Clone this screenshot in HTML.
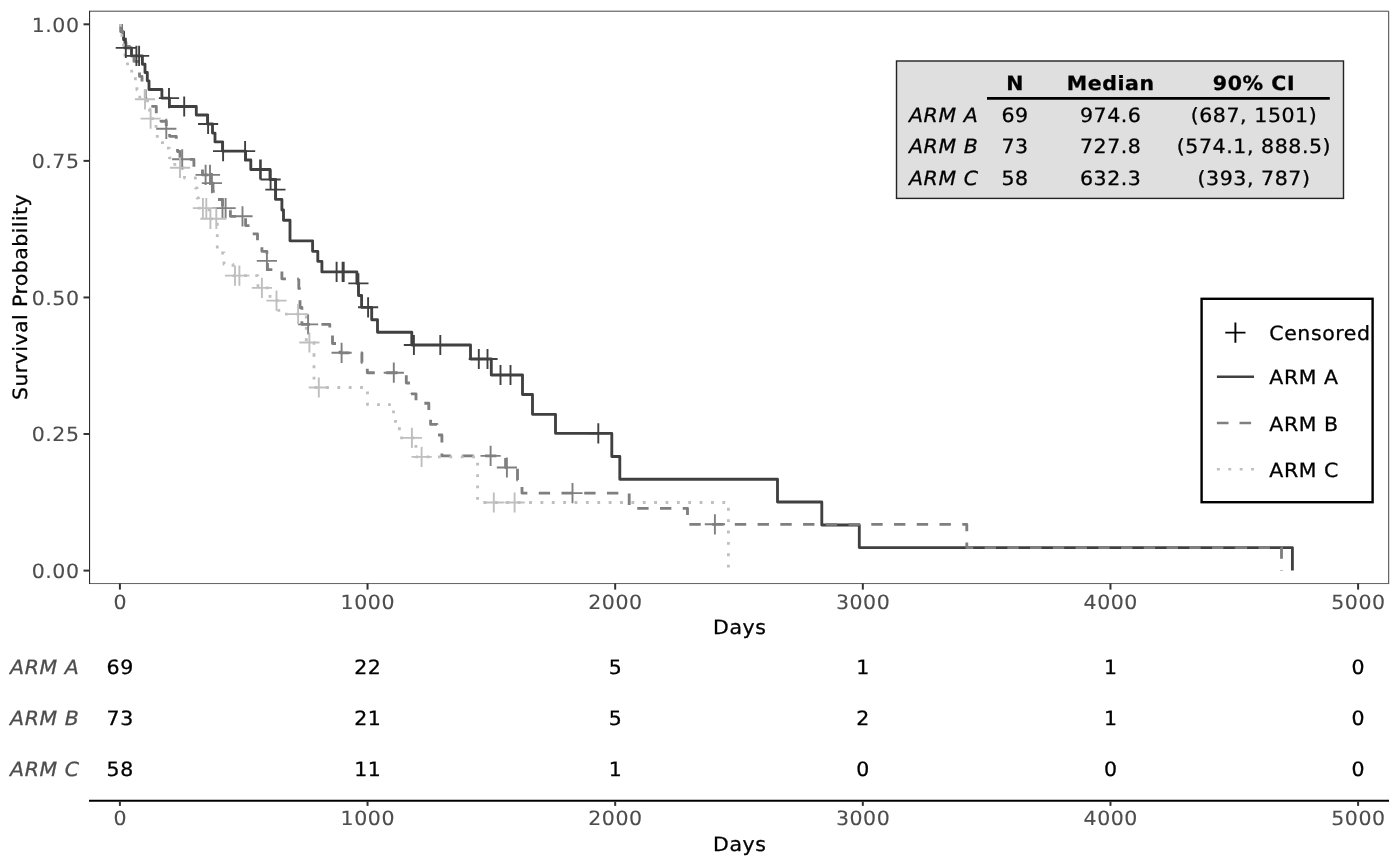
<!DOCTYPE html>
<html lang="en"><head><meta charset="utf-8"><title>Kaplan-Meier Plot</title>
<style>html,body{margin:0;padding:0;background:#fff}svg{display:block}text{font-family:"DejaVu Sans","Liberation Sans",sans-serif;text-rendering:geometricPrecision;letter-spacing:0.57px;stroke-width:0.3px;stroke-linejoin:round}.ax{font-size:20.50px;fill:#4d4d4d;stroke:#4d4d4d;stroke-width:0.12px}.ti{font-size:20.50px;fill:#000;stroke:#000}.it{font-style:italic}.b{font-weight:bold}.m{text-anchor:middle}.e{text-anchor:end}</style></head><body>
<svg width="1400" height="866" viewBox="0 0 1400 866">
<rect x="0" y="0" width="1400" height="866" fill="#fff"/>
<g id="curves" fill="none">
<path d="M121.3 24V31.9H123.6V39.8H125V47.9H131.5V55.9H142.4V64.2H145V72.5H147.3V80.8H149V89.5H161.9V98.1H169.4V106.5H196.3V115H207.5V124H212.5V133.1H215V141.9H222.5V151.1H245.6V160H250.8V169.5H270V179.5H275.6V199.4H281.9V210H283.5V220.2H290V240.8H312.6V251.3H317.8V261.3H321.9V271.9H356.9V283.4H358.5V295.5H361.6V307.3H371.7V319.7H377.5V332.2H411.8V345H470.5V359H491.3V375H522.5V394.5H532.5V414.3H555.5V433.3H611.8V456.5H619.8V479.2H777.5V502H821.8V525H859.3V547.6H1292.4V570.4" stroke="#404040" stroke-width="2.85" stroke-linejoin="round"/>
<g stroke="#7f7f7f" stroke-width="2.85" stroke-linejoin="round" stroke-dasharray="11.37 11.37"><path d="M120.7 24V31.5H122.6V39H126V46.4H129.5V53.9H134V61.4H138.5V68.9H139.5V72.6"/><path d="M139.5 72.6V76.4H142V83.8H145.3V98.8H150.5V106.3H151.9"/><path d="M151.9 106.3H156.3V113.8H161V121.2H166.3V128.8H169.6V136.3H176.3V143.9H177.5V151.5H180V159.3H190"/><path d="M190 159.3H193.9V166.9H202.5V174.9H211.3V183.1H213V191.4H216V199.5H222.5V208.1H230.4V210.6"/><path d="M230.4 210.6V216.3H245.6V225.6H252V233.8H257.5V242.5H261.9V251.3H266.9V260.9H267.5V263.1"/><path d="M267.5 263.1V269.6H281.9V278.8H298.8"/><path d="M298.8 278.8H298.8V288.5H299.5V298H300V307.5H301.9V324.4H329.8V334H332.5V335.6"/><path d="M332.5 335.6V343.5H340V352.8H361.9V362.5H367.3V368.8"/><path d="M367.3 368.8V372.7H406.3V383H411V393.8"/><path d="M411 393.8H411H416V403.2H428.8V413.7H430.6V424.4H437V435H441.9V453.5"/><path d="M441.9 453.5V455.9H505.6V467.5H517.5V480H522V493.1H629.2V508.3H687.5V524.4H966.8V547.5H1235.8"/><path d="M1235.8 547.5H1281.5V570.4"/></g>
<g stroke="#bfbfbf" stroke-width="2.85" stroke-linejoin="round" stroke-dasharray="2.84 8.53"><path d="M120.5 24V33.4H122V42.8H123.5V52.2H125V61.7H127.5V71.1H135.4V80.5H136.9V89.9H139.8V99.3H147.5V108.9H149.5V118.6H156V128.5H157.3V138.3H162.5V148.1H169.4V157.9H174.8V167.8H184.5V178H195.5V188H197V198H198.5V208.1H209V218.8H217.3V253H224V264.3H233V275.6H255.3"/><path d="M255.3 275.6H258V287.9H270V300.6H278.8V314.1H306.3V342.5H314V354"/><path d="M314 354V387.5H367.5V404.6H388"/><path d="M388 404.6H393.5V421.3H399.4V437.9H415.9V456.9H438"/><path d="M438 456.9H477.6V502.5H483.6"/><path d="M483.6 502.5H728.4V570.4"/></g>
<path d="M115.7 47.9h20.2M125.8 37.8v20.2M126.3 55.9h20.2M136.4 45.8v20.2M129 55.9h20.2M139.1 45.8v20.2M158.9 98.1h20.2M169 88v20.2M174.1 106.5h20.2M184.2 96.4v20.2M198 124h20.2M208.1 113.9v20.2M213 151.1h20.2M223.1 141v20.2M235 151.1h20.2M245.1 141v20.2M250 169.5h20.2M260.1 159.4v20.2M250.7 169.5h20.2M260.8 159.4v20.2M260.5 179.5h20.2M270.6 169.4v20.2M265.3 189.6h20.2M275.4 179.5v20.2M326.5 271.9h20.2M336.6 261.8v20.2M332.5 271.9h20.2M342.6 261.8v20.2M333.6 271.9h20.2M343.7 261.8v20.2M348.3 283.4h20.2M358.4 273.3v20.2M358 307.3h20.2M368.1 297.2v20.2M403.8 345h20.2M413.9 334.9v20.2M430.2 345h20.2M440.3 334.9v20.2M468.7 359h20.2M478.8 348.9v20.2M477.4 359h20.2M487.5 348.9v20.2M490.4 375h20.2M500.5 364.9v20.2M500.4 375h20.2M510.5 364.9v20.2M588.2 433.3h20.2M598.3 423.2v20.2" stroke="#404040" stroke-width="1.9"/>
<path d="M156.2 128.8h20.2M166.3 118.7v20.2M172.1 159.3h20.2M182.2 149.2v20.2M195.5 174.9h20.2M205.6 164.8v20.2M199.9 174.9h20.2M210 164.8v20.2M201.8 183.1h20.2M211.9 173v20.2M212.4 208.1h20.2M222.5 198v20.2M215.5 208.1h20.2M225.6 198v20.2M232.4 216.3h20.2M242.5 206.2v20.2M256.8 260.9h20.2M266.9 250.8v20.2M298 324.4h20.2M308.1 314.3v20.2M331.5 352.8h20.2M341.6 342.7v20.2M383.7 372.7h20.2M393.8 362.6v20.2M480.5 455.9h20.2M490.6 445.8v20.2M496.8 467.5h20.2M506.9 457.4v20.2M562.4 493.1h20.2M572.5 483v20.2M704.8 524.3h20.2M714.9 514.2v20.2" stroke="#7f7f7f" stroke-width="1.9"/>
<path d="M134.9 99.3h20.2M145 89.2v20.2M140.5 118.6h20.2M150.6 108.5v20.2M169.9 167.8h20.2M180 157.7v20.2M192.8 208.1h20.2M202.9 198v20.2M196.2 208.1h20.2M206.3 198v20.2M200.3 218.8h20.2M210.4 208.7v20.2M206.2 218.8h20.2M216.3 208.7v20.2M224.9 275.6h20.2M235 265.5v20.2M229.3 275.6h20.2M239.4 265.5v20.2M251.8 287.9h20.2M261.9 277.8v20.2M266.4 300.6h20.2M276.5 290.5v20.2M288 314.1h20.2M298.1 304v20.2M299.3 342.5h20.2M309.4 332.4v20.2M308.7 387.5h20.2M318.8 377.4v20.2M401.8 437.9h20.2M411.9 427.8v20.2M411.5 456.9h20.2M421.6 446.8v20.2M483.7 502.5h20.2M493.8 492.4v20.2M504.5 502.5h20.2M514.6 492.4v20.2" stroke="#bfbfbf" stroke-width="1.9"/>
</g>
<path d="M89.60 11.2H1388.7V583.40" fill="none" stroke="#3a3a3a" stroke-width="0.95"/>
<path d="M89.10 583.55H1389.2" fill="none" stroke="#3a3a3a" stroke-width="0.8"/>
<path d="M89.55 10.7V584" fill="none" stroke="#2e2e2e" stroke-width="1.1"/>
<path d="M83.5 570.60H89.6" stroke="#333" stroke-width="2"/>
<text class="ax e" transform="translate(79.57 577.80) scale(1 0.958)">0.00</text>
<path d="M83.5 434.03H89.6" stroke="#333" stroke-width="2"/>
<text class="ax e" transform="translate(79.57 441.23) scale(1 0.958)">0.25</text>
<path d="M83.5 297.45H89.6" stroke="#333" stroke-width="2"/>
<text class="ax e" transform="translate(79.57 304.65) scale(1 0.958)">0.50</text>
<path d="M83.5 160.88H89.6" stroke="#333" stroke-width="2"/>
<text class="ax e" transform="translate(79.57 168.08) scale(1 0.958)">0.75</text>
<path d="M83.5 24.30H89.6" stroke="#333" stroke-width="2"/>
<text class="ax e" transform="translate(79.57 31.50) scale(1 0.958)">1.00</text>
<path d="M119.90 583.4V589.6" stroke="#333" stroke-width="2"/>
<text class="ax m" transform="translate(120.19 609.00) scale(1 0.958)">0</text>
<path d="M367.54 583.4V589.6" stroke="#333" stroke-width="2"/>
<text class="ax m" transform="translate(367.82 609.00) scale(1 0.958)">1000</text>
<path d="M615.18 583.4V589.6" stroke="#333" stroke-width="2"/>
<text class="ax m" transform="translate(615.46 609.00) scale(1 0.958)">2000</text>
<path d="M862.82 583.4V589.6" stroke="#333" stroke-width="2"/>
<text class="ax m" transform="translate(863.10 609.00) scale(1 0.958)">3000</text>
<path d="M1110.46 583.4V589.6" stroke="#333" stroke-width="2"/>
<text class="ax m" transform="translate(1110.75 609.00) scale(1 0.958)">4000</text>
<path d="M1358.10 583.4V589.6" stroke="#333" stroke-width="2"/>
<text class="ax m" transform="translate(1358.39 609.00) scale(1 0.958)">5000</text>
<text class="ti m" transform="translate(739.78 633.80) scale(1 0.958)">Days</text>
<text class="ti m" style="letter-spacing:0.42px" transform="translate(27.40 297.01) rotate(-90) scale(1 0.958)">Survival Probability</text>
<rect x="896.5" y="61" width="447" height="137.4" fill="#dfdfdf" stroke="#222" stroke-width="1.4"/>
<path d="M987 98.3H1329.8" stroke="#000" stroke-width="2.8"/>
<text class="ti b m" transform="translate(1014.99 89.60) scale(1 0.958)">N</text>
<text class="ti b m" transform="translate(1110.69 89.60) scale(1 0.958)">Median</text>
<text class="ti b m" transform="translate(1253.99 89.60) scale(1 0.958)">90% CI</text>
<text class="ti it" transform="translate(909.00 122.00) scale(1 0.958)">ARM A</text>
<text class="ti m" transform="translate(1014.99 122.00) scale(1 0.958)">69</text>
<text class="ti m" transform="translate(1110.69 122.00) scale(1 0.958)">974.6</text>
<text class="ti m" transform="translate(1253.99 122.00) scale(1 0.958)">(687, 1501)</text>
<text class="ti it" transform="translate(909.00 152.50) scale(1 0.958)">ARM B</text>
<text class="ti m" transform="translate(1014.99 152.50) scale(1 0.958)">73</text>
<text class="ti m" transform="translate(1110.69 152.50) scale(1 0.958)">727.8</text>
<text class="ti m" transform="translate(1253.99 152.50) scale(1 0.958)">(574.1, 888.5)</text>
<text class="ti it" transform="translate(909.00 184.60) scale(1 0.958)">ARM C</text>
<text class="ti m" transform="translate(1014.99 184.60) scale(1 0.958)">58</text>
<text class="ti m" transform="translate(1110.69 184.60) scale(1 0.958)">632.3</text>
<text class="ti m" transform="translate(1253.99 184.60) scale(1 0.958)">(393, 787)</text>
<rect x="1201.6" y="298.8" width="171" height="203.4" fill="#fff" stroke="#000" stroke-width="2.4"/>
<path d="M1225.3 332.6H1245.5M1235.4 322.5V342.7" stroke="#000" stroke-width="1.9" fill="none"/>
<path d="M1216.9 376.7H1254" stroke="#404040" stroke-width="2.6"/>
<path d="M1216.9 423H1254" stroke="#7f7f7f" stroke-width="2.6" stroke-dasharray="11.6 11"/>
<path d="M1216.9 469.3H1254" stroke="#bfbfbf" stroke-width="2.6" stroke-dasharray="2.9 8.5"/>
<text class="ti" transform="translate(1269.30 340.00) scale(1 0.958)">Censored</text>
<text class="ti" transform="translate(1269.30 384.30) scale(1 0.958)">ARM A</text>
<text class="ti" transform="translate(1269.30 430.70) scale(1 0.958)">ARM B</text>
<text class="ti" transform="translate(1269.30 477.00) scale(1 0.958)">ARM C</text>
<text class="ti it" style="fill:#4d4d4d;stroke:#4d4d4d" transform="translate(10.10 674.30) scale(1 0.958)">ARM A</text>
<text class="ti m" transform="translate(120.19 674.30) scale(1 0.958)">69</text>
<text class="ti m" transform="translate(367.82 674.30) scale(1 0.958)">22</text>
<text class="ti m" transform="translate(615.46 674.30) scale(1 0.958)">5</text>
<text class="ti m" transform="translate(863.10 674.30) scale(1 0.958)">1</text>
<text class="ti m" transform="translate(1110.75 674.30) scale(1 0.958)">1</text>
<text class="ti m" transform="translate(1358.39 674.30) scale(1 0.958)">0</text>
<text class="ti it" style="fill:#4d4d4d;stroke:#4d4d4d" transform="translate(10.10 725.30) scale(1 0.958)">ARM B</text>
<text class="ti m" transform="translate(120.19 725.30) scale(1 0.958)">73</text>
<text class="ti m" transform="translate(367.82 725.30) scale(1 0.958)">21</text>
<text class="ti m" transform="translate(615.46 725.30) scale(1 0.958)">5</text>
<text class="ti m" transform="translate(863.10 725.30) scale(1 0.958)">2</text>
<text class="ti m" transform="translate(1110.75 725.30) scale(1 0.958)">1</text>
<text class="ti m" transform="translate(1358.39 725.30) scale(1 0.958)">0</text>
<text class="ti it" style="fill:#4d4d4d;stroke:#4d4d4d" transform="translate(10.10 776.30) scale(1 0.958)">ARM C</text>
<text class="ti m" transform="translate(120.19 776.30) scale(1 0.958)">58</text>
<text class="ti m" transform="translate(367.82 776.30) scale(1 0.958)">11</text>
<text class="ti m" transform="translate(615.46 776.30) scale(1 0.958)">1</text>
<text class="ti m" transform="translate(863.10 776.30) scale(1 0.958)">0</text>
<text class="ti m" transform="translate(1110.75 776.30) scale(1 0.958)">0</text>
<text class="ti m" transform="translate(1358.39 776.30) scale(1 0.958)">0</text>
<path d="M89 800.8H1389" stroke="#000" stroke-width="2.1"/>
<path d="M119.90 801.5V805.9" stroke="#333" stroke-width="2"/>
<text class="ax m" transform="translate(120.19 825.10) scale(1 0.958)">0</text>
<path d="M367.54 801.5V805.9" stroke="#333" stroke-width="2"/>
<text class="ax m" transform="translate(367.82 825.10) scale(1 0.958)">1000</text>
<path d="M615.18 801.5V805.9" stroke="#333" stroke-width="2"/>
<text class="ax m" transform="translate(615.46 825.10) scale(1 0.958)">2000</text>
<path d="M862.82 801.5V805.9" stroke="#333" stroke-width="2"/>
<text class="ax m" transform="translate(863.10 825.10) scale(1 0.958)">3000</text>
<path d="M1110.46 801.5V805.9" stroke="#333" stroke-width="2"/>
<text class="ax m" transform="translate(1110.75 825.10) scale(1 0.958)">4000</text>
<path d="M1358.10 801.5V805.9" stroke="#333" stroke-width="2"/>
<text class="ax m" transform="translate(1358.39 825.10) scale(1 0.958)">5000</text>
<text class="ti m" transform="translate(739.78 850.60) scale(1 0.958)">Days</text>
</svg></body></html>
